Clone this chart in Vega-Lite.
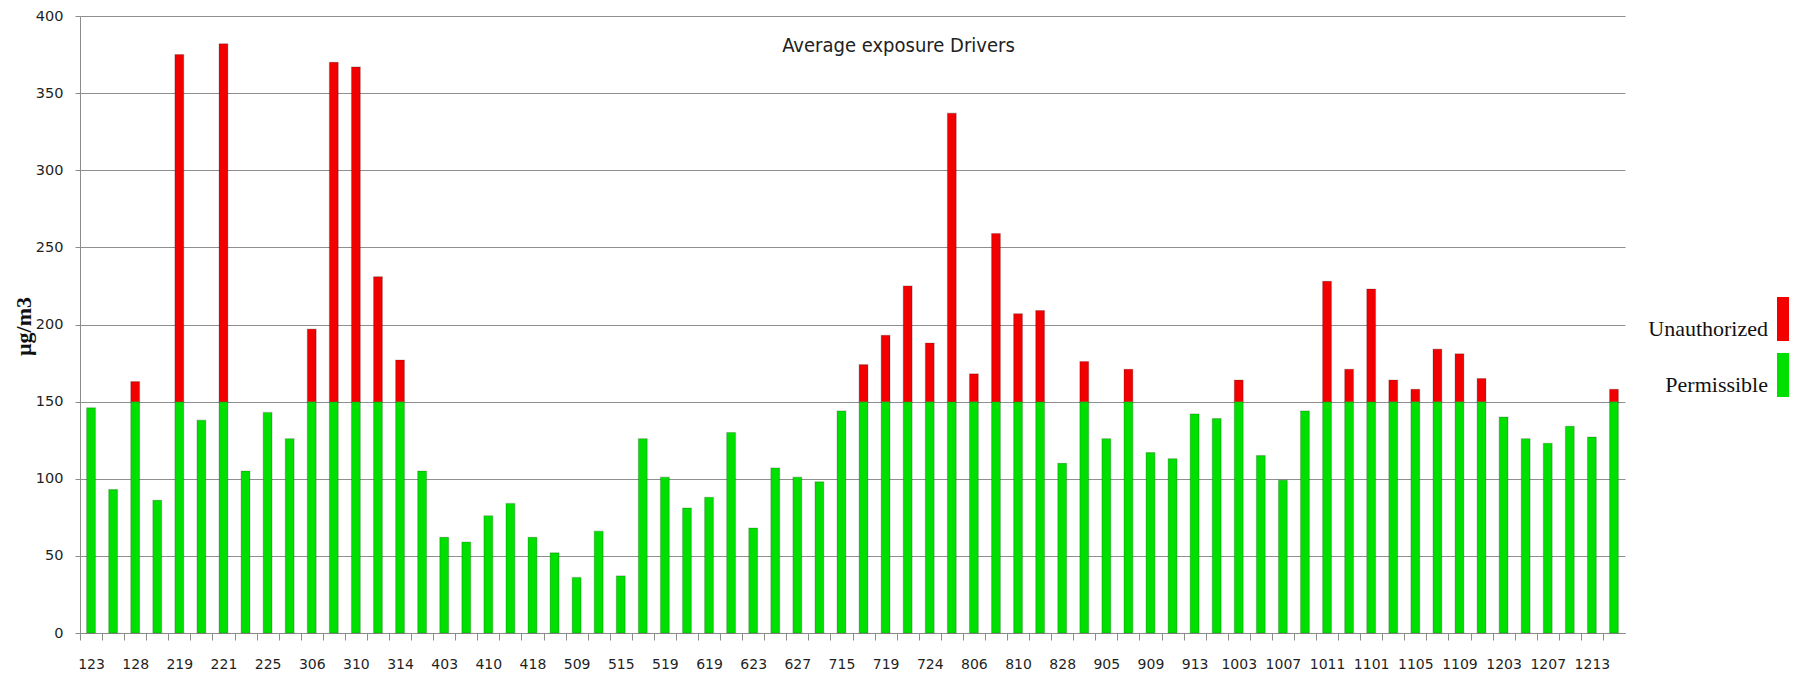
{
  "$schema": "https://vega.github.io/schema/vega-lite/v6.json",
  "width": 1545,
  "height": 617,
  "autosize": {"type": "none"},
  "padding": {"left": 80, "top": 16, "right": 175, "bottom": 46},
  "background": "white",
  "title": {
    "text": "Average exposure Drivers",
    "font": "DejaVu Sans Condensed",
    "fontSize": 20,
    "fontWeight": "normal",
    "color": "#222222",
    "anchor": "middle",
    "baseline": "alphabetic",
    "offset": 0,
    "dx": 46,
    "dy": 64
  },
  "data": {
    "values": [
      {"code": "123", "series": "Permissible", "value": 146},
      {"code": "u2", "series": "Permissible", "value": 93},
      {"code": "128", "series": "Permissible", "value": 150},
      {"code": "u4", "series": "Permissible", "value": 86},
      {"code": "219", "series": "Permissible", "value": 150},
      {"code": "u6", "series": "Permissible", "value": 138},
      {"code": "221", "series": "Permissible", "value": 150},
      {"code": "u8", "series": "Permissible", "value": 105},
      {"code": "225", "series": "Permissible", "value": 143},
      {"code": "u10", "series": "Permissible", "value": 126},
      {"code": "306", "series": "Permissible", "value": 150},
      {"code": "u12", "series": "Permissible", "value": 150},
      {"code": "310", "series": "Permissible", "value": 150},
      {"code": "u14", "series": "Permissible", "value": 150},
      {"code": "314", "series": "Permissible", "value": 150},
      {"code": "u16", "series": "Permissible", "value": 105},
      {"code": "403", "series": "Permissible", "value": 62},
      {"code": "u18", "series": "Permissible", "value": 59},
      {"code": "410", "series": "Permissible", "value": 76},
      {"code": "u20", "series": "Permissible", "value": 84},
      {"code": "418", "series": "Permissible", "value": 62},
      {"code": "u22", "series": "Permissible", "value": 52},
      {"code": "509", "series": "Permissible", "value": 36},
      {"code": "u24", "series": "Permissible", "value": 66},
      {"code": "515", "series": "Permissible", "value": 37},
      {"code": "u26", "series": "Permissible", "value": 126},
      {"code": "519", "series": "Permissible", "value": 101},
      {"code": "u28", "series": "Permissible", "value": 81},
      {"code": "619", "series": "Permissible", "value": 88},
      {"code": "u30", "series": "Permissible", "value": 130},
      {"code": "623", "series": "Permissible", "value": 68},
      {"code": "u32", "series": "Permissible", "value": 107},
      {"code": "627", "series": "Permissible", "value": 101},
      {"code": "u34", "series": "Permissible", "value": 98},
      {"code": "715", "series": "Permissible", "value": 144},
      {"code": "u36", "series": "Permissible", "value": 150},
      {"code": "719", "series": "Permissible", "value": 150},
      {"code": "u38", "series": "Permissible", "value": 150},
      {"code": "724", "series": "Permissible", "value": 150},
      {"code": "u40", "series": "Permissible", "value": 150},
      {"code": "806", "series": "Permissible", "value": 150},
      {"code": "u42", "series": "Permissible", "value": 150},
      {"code": "810", "series": "Permissible", "value": 150},
      {"code": "u44", "series": "Permissible", "value": 150},
      {"code": "828", "series": "Permissible", "value": 110},
      {"code": "u46", "series": "Permissible", "value": 150},
      {"code": "905", "series": "Permissible", "value": 126},
      {"code": "u48", "series": "Permissible", "value": 150},
      {"code": "909", "series": "Permissible", "value": 117},
      {"code": "u50", "series": "Permissible", "value": 113},
      {"code": "913", "series": "Permissible", "value": 142},
      {"code": "u52", "series": "Permissible", "value": 139},
      {"code": "1003", "series": "Permissible", "value": 150},
      {"code": "u54", "series": "Permissible", "value": 115},
      {"code": "1007", "series": "Permissible", "value": 99},
      {"code": "u56", "series": "Permissible", "value": 144},
      {"code": "1011", "series": "Permissible", "value": 150},
      {"code": "u58", "series": "Permissible", "value": 150},
      {"code": "1101", "series": "Permissible", "value": 150},
      {"code": "u60", "series": "Permissible", "value": 150},
      {"code": "1105", "series": "Permissible", "value": 150},
      {"code": "u62", "series": "Permissible", "value": 150},
      {"code": "1109", "series": "Permissible", "value": 150},
      {"code": "u64", "series": "Permissible", "value": 150},
      {"code": "1203", "series": "Permissible", "value": 140},
      {"code": "u66", "series": "Permissible", "value": 126},
      {"code": "1207", "series": "Permissible", "value": 123},
      {"code": "u68", "series": "Permissible", "value": 134},
      {"code": "1213", "series": "Permissible", "value": 127},
      {"code": "u70", "series": "Permissible", "value": 150},
      {"code": "128", "series": "Unauthorized", "value": 13},
      {"code": "219", "series": "Unauthorized", "value": 225},
      {"code": "221", "series": "Unauthorized", "value": 232},
      {"code": "306", "series": "Unauthorized", "value": 47},
      {"code": "u12", "series": "Unauthorized", "value": 220},
      {"code": "310", "series": "Unauthorized", "value": 217},
      {"code": "u14", "series": "Unauthorized", "value": 81},
      {"code": "314", "series": "Unauthorized", "value": 27},
      {"code": "u36", "series": "Unauthorized", "value": 24},
      {"code": "719", "series": "Unauthorized", "value": 43},
      {"code": "u38", "series": "Unauthorized", "value": 75},
      {"code": "724", "series": "Unauthorized", "value": 38},
      {"code": "u40", "series": "Unauthorized", "value": 187},
      {"code": "806", "series": "Unauthorized", "value": 18},
      {"code": "u42", "series": "Unauthorized", "value": 109},
      {"code": "810", "series": "Unauthorized", "value": 57},
      {"code": "u44", "series": "Unauthorized", "value": 59},
      {"code": "u46", "series": "Unauthorized", "value": 26},
      {"code": "u48", "series": "Unauthorized", "value": 21},
      {"code": "1003", "series": "Unauthorized", "value": 14},
      {"code": "1011", "series": "Unauthorized", "value": 78},
      {"code": "u58", "series": "Unauthorized", "value": 21},
      {"code": "1101", "series": "Unauthorized", "value": 73},
      {"code": "u60", "series": "Unauthorized", "value": 14},
      {"code": "1105", "series": "Unauthorized", "value": 8},
      {"code": "u62", "series": "Unauthorized", "value": 34},
      {"code": "1109", "series": "Unauthorized", "value": 31},
      {"code": "u64", "series": "Unauthorized", "value": 15},
      {"code": "u70", "series": "Unauthorized", "value": 8}
    ]
  },
  "mark": {"type": "bar", "stroke": "#000000", "strokeOpacity": 0.18, "strokeWidth": 1.2},
  "encoding": {
    "x": {
      "field": "code",
      "type": "nominal",
      "sort": null,
      "scale": {"paddingInner": 0.6, "paddingOuter": 0.3},
      "axis": {
        "title": null,
        "labelAngle": 0,
        "labelExpr": "indexof(datum.value, 'u') == 0 ? '' : datum.value",
        "labelOverlap": false,
        "labelFont": "DejaVu Sans",
        "labelFontSize": 14,
        "labelColor": "#1f1f1f",
        "labelPadding": 17,
        "tickOffset": -11,
        "labelOffset": 11,
        "tickSize": 7,
        "tickColor": "#8c8c8c",
        "domainColor": "#8c8c8c",
        "grid": false
      }
    },
    "y": {
      "field": "value",
      "type": "quantitative",
      "stack": "zero",
      "scale": {"domain": [0, 400], "nice": false},
      "axis": {
        "values": [0, 50, 100, 150, 200, 250, 300, 350, 400],
        "title": "µg/m3",
        "titleFont": "Liberation Serif",
        "titleFontWeight": "bold",
        "titleFontSize": 22,
        "titleColor": "#111111",
        "titleAngle": 270,
        "titleAlign": "center",
        "titleBaseline": "middle",
        "titleX": -57,
        "titleY": 310,
        "labelFont": "DejaVu Sans",
        "labelFontSize": 14.5,
        "labelColor": "#1f1f1f",
        "labelPadding": 12,
        "tickSize": 5,
        "tickColor": "#8c8c8c",
        "domainColor": "#8c8c8c",
        "grid": true,
        "gridColor": "#8f8f8f",
        "gridWidth": 1.2
      }
    },
    "color": {
      "field": "series",
      "type": "nominal",
      "scale": {"domain": ["Permissible", "Unauthorized"], "range": ["#00e000", "#f20000"]},
      "legend": {
        "title": null,
        "values": ["Unauthorized", "Permissible"],
        "orient": "none",
        "legendX": 1681,
        "legendY": 281,
        "padding": 0,
        "symbolType": "M-0.273,-1H0.273V1H-0.273Z",
        "symbolSize": 1936,
        "symbolStrokeWidth": 0,
        "labelFont": "Liberation Serif",
        "labelFontSize": 22,
        "labelColor": "#111111",
        "labelAlign": "right",
        "labelBaseline": "top",
        "labelOffset": -37,
        "rowPadding": 12,
        "labelLimit": 300,
        "encode": {"labels": {"update": {"dy": {"value": 6}}}}
      }
    },
    "order": {"field": "series", "type": "nominal", "sort": "ascending"}
  },
  "config": {
    "view": {"stroke": null}
  }
}
